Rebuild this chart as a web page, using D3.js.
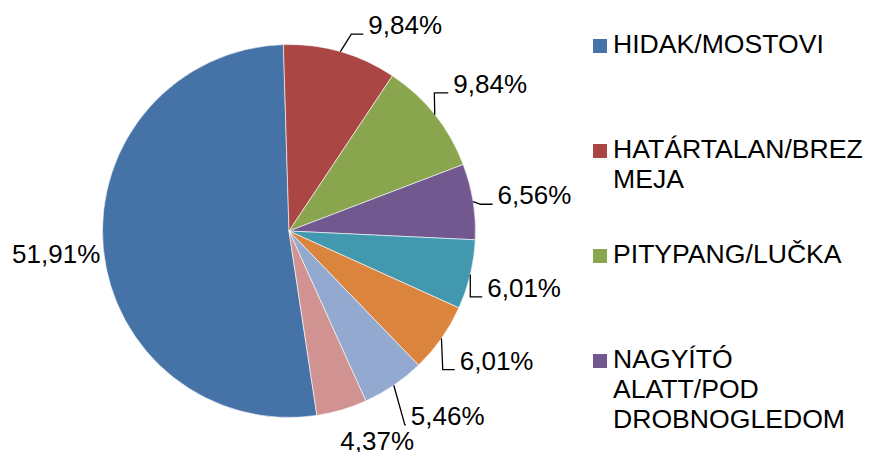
<!DOCTYPE html>
<html>
<head>
<meta charset="utf-8">
<script src="https://cdn.jsdelivr.net/npm/d3@7"></script>
<style>
  body { margin: 0; background: #fff; }
  text { font-family: "Liberation Sans", Arial, sans-serif; fill: #000; }
</style>
</head>
<body>
<svg class="chart"></svg>
<script>
let width = 870, height = 452;

// data: answer counts per slice (183 total), first four names visible in legend
let categories = ["HIDAK/MOSTOVI", "HATÁRTALAN/BREZMEJA", "PITYPANG/LUČKA", "NAGYÍTÓ ALATT/POD DROBNOGLEDOM"];
let counts = [95, 18, 18, 12, 11, 11, 10, 8];
let colors = ["#4572A7", "#AA4643", "#89A54E", "#71588F", "#4198AF", "#DB843D", "#93A9CF", "#D19392"];

// label layout (Excel best-fit shifts), degrees and px
let labelNudge = [-0.6, 13.5, 2.5, 0.9, 0.15, -3.1, -6.4, -6.3];
let labelRadius = [234, 236, 249, 248, 242, 245, 244, 228];
let leaderElbow = [null, 12, 14, 12, 12, 12, 1, null];

let cx = 289, cy = 231, r = 186.5;
let startDeg = 171.4;
let fontSize = 26, legendFont = 26.6;

let locale = d3.formatLocale({ decimal: ",", thousands: ".", grouping: [3], currency: ["", ""] });
let fmt = locale.format(".2f");
let total = d3.sum(counts);

let svg = d3.select(".chart")
  .attr("width", width)
  .attr("height", height);

let chart = svg.append("g")
  .attr("transform", "translate(" + cx + "," + cy + ")");

let pie = d3.pie()
  .sort(null)
  .value(d => d)
  .startAngle(startDeg * Math.PI / 180)
  .endAngle(startDeg * Math.PI / 180 + 2 * Math.PI);

let arc = d3.arc().innerRadius(0).outerRadius(r);
let arcs = pie(counts);

chart.selectAll("path.slice")
  .data(arcs)
  .enter().append("path")
  .attr("class", "slice")
  .attr("d", arc)
  .style("fill", (d, i) => colors[i])
  .style("stroke", "#fff")
  .style("stroke-width", 0.6);

let polar = (a, rad) => [rad * Math.sin(a), -rad * Math.cos(a)];

// data labels
arcs.forEach((d, i) => {
  let mid = (d.startAngle + d.endAngle) / 2;
  let [lx, ly] = polar(mid + labelNudge[i] * Math.PI / 180, labelRadius[i]);
  let t = chart.append("text")
    .attr("x", lx)
    .attr("y", ly)
    .attr("dy", "0.33em")
    .style("text-anchor", "middle")
    .style("font-size", fontSize + "px")
    .text(fmt(d.data / total * 100) + "%");

  if (leaderElbow[i] != null) {
    let w = t.node().getComputedTextLength();
    let start = polar(mid, r);
    let end = [lx - w / 2 - 5, ly + 0.33 * fontSize];
    let elbow = [end[0] - leaderElbow[i], end[1]];
    chart.append("path")
      .attr("d", d3.line()([start, elbow, end]))
      .style("fill", "none")
      .style("stroke", "#000")
      .style("stroke-width", 1.3);
  }
});

// legend (only what fits, as in the original)
let legend = svg.append("g").attr("transform", "translate(593,53)");
let maxW = 262;

categories.forEach((name, i) => {
  let g = legend.append("g").attr("transform", "translate(0," + i * 105 + ")");
  g.append("rect")
    .attr("x", 0)
    .attr("y", -14)
    .attr("width", 14)
    .attr("height", 14)
    .style("fill", colors[i]);
  let t = g.append("text")
    .attr("x", 20)
    .attr("y", 0)
    .style("font-size", legendFont + "px");
  wrap(t, name, maxW);
});

function wrap(text, str, maxWidth) {
  // break on spaces, and inside a word if it is still too long
  let lines = [];
  let line = "";
  let probe = text.append("tspan");
  let fits = s => { probe.text(s); return probe.node().getComputedTextLength() <= maxWidth; };
  str.split(" ").forEach(word => {
    let candidate = line ? line + " " + word : word;
    if (fits(candidate)) { line = candidate; return; }
    if (line) { lines.push(line); line = ""; }
    for (const ch of word) {
      if (fits(line + ch)) line += ch;
      else { lines.push(line); line = ch; }
    }
  });
  if (line) lines.push(line);
  probe.remove();
  lines.forEach((l, k) => {
    text.append("tspan")
      .attr("x", text.attr("x"))
      .attr("dy", k === 0 ? 0 : 30)
      .text(l);
  });
}
</script>
</body>
</html>
